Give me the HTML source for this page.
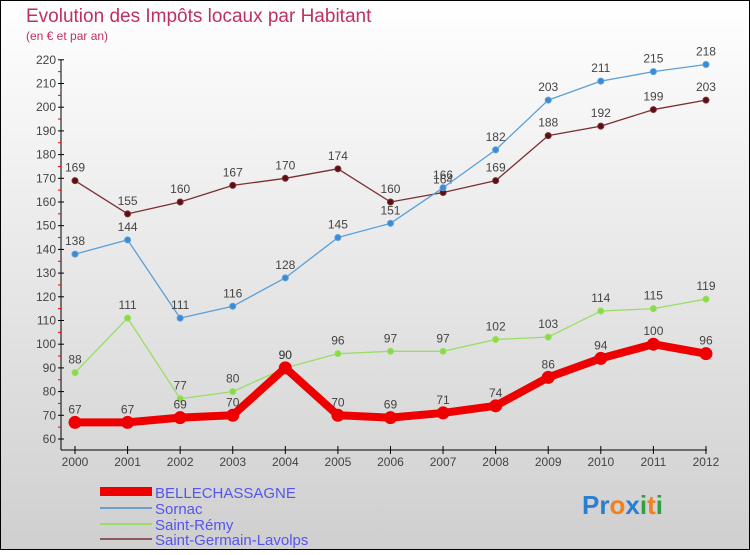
<!DOCTYPE html>
<html><head><meta charset="utf-8"><style>
body{margin:0;width:750px;height:550px;overflow:hidden;font-family:"Liberation Sans",sans-serif}
</style></head><body>
<svg width="750" height="550" xmlns="http://www.w3.org/2000/svg">
<defs><linearGradient id="bg" x1="0" y1="0" x2="0" y2="1"><stop offset="0" stop-color="#ffffff"/><stop offset="1" stop-color="#cfcfcf"/></linearGradient></defs>
<rect x="0.5" y="0.5" width="749" height="549" fill="url(#bg)" stroke="#000"/>
<text x="26" y="22" font-size="19" fill="#c0305f">Evolution des Impôts locaux par Habitant</text>
<text x="26" y="40" font-size="12" fill="#c0305f">(en € et par an)</text>
<g id="axes"></g>
<g id="series"></g>
<g id="legend" font-size="15" fill="#5555ee">
<rect x="100" y="487" width="52" height="9" fill="#ee0000"/>
<text x="155" y="498">BELLECHASSAGNE</text>
<rect x="100" y="507" width="52" height="2" fill="#6a9fcc"/>
<text x="155" y="514">Sornac</text>
<rect x="100" y="523" width="52" height="2" fill="#99dd66"/>
<text x="155" y="530">Saint-Rémy</text>
<rect x="100" y="538" width="52" height="2" fill="#8a5a5a"/>
<text x="155" y="545">Saint-Germain-Lavolps</text>
</g>
<text x="582" y="514" font-size="26" font-weight="bold"><tspan fill="#2a7fd0">Pr</tspan><tspan fill="#f08020">o</tspan><tspan fill="#2a7fd0">x</tspan><tspan fill="#30a040">i</tspan><tspan fill="#f08020">t</tspan><tspan fill="#30a040">i</tspan></text>
<script>
var years=[2000,2001,2002,2003,2004,2005,2006,2007,2008,2009,2010,2011,2012];
var yTicks=[60,70,80,90,100,110,120,130,140,150,160,170,180,190,200,210,220];
var belle=[67,67,69,70,90,70,69,71,74,86,94,100,96];
var sornac=[138,144,111,116,128,145,151,166,182,203,211,215,218];
var remy=[88,111,77,80,90,96,97,97,102,103,114,115,119];
var germain=[169,155,160,167,170,174,160,164,169,188,192,199,203];
var NS="http://www.w3.org/2000/svg";
function X(i){return 75+i*52.58;}
function Y(v){return 439-(v-60)*2.37;}
function mk(t,a,p){var e=document.createElementNS(NS,t);for(var k in a)e.setAttribute(k,a[k]);p.appendChild(e);return e;}
var ax=document.getElementById('axes');
var yl=mk('line',{x1:61,y1:60,x2:61,y2:450,stroke:'#000','stroke-width':1},ax);


var xl=mk('line',{x1:61,y1:450,x2:707,y2:450,stroke:'#000','stroke-width':1},ax);


yTicks.forEach(function(v){
 mk('line',{x1:58,y1:Y(v),x2:64,y2:Y(v),stroke:'#000'},ax);
 if(v<220)mk('line',{x1:58,y1:Y(v+5),x2:61,y2:Y(v+5),stroke:'#e00'},ax);
 var t=mk('text',{x:56,y:Y(v)+4,'font-size':12,fill:'#444','text-anchor':'end'},ax);t.textContent=v;
 
 
});
years.forEach(function(y,i){
 mk('line',{x1:X(i),y1:446,x2:X(i),y2:454,stroke:'#000'},ax);
 var t=mk('text',{x:X(i),y:466,'font-size':12,fill:'#444','text-anchor':'middle'},ax);t.textContent=y;
 
 
});
var sg=document.getElementById('series');
function draw(data,color,w,r,dot,name,lab){
 var g=mk('g',{},sg);
 
 
 var pl=mk('polyline',{points:data.map(function(v,i){return X(i)+','+Y(v);}).join(' '),fill:'none',stroke:color,'stroke-width':w,'stroke-linejoin':'round'},g);
 
 
 data.forEach(function(v,i){
  var c=mk('circle',{cx:X(i),cy:Y(v),r:r,fill:dot,stroke:color},g);
  
  
  var t=mk('text',{x:X(i),y:Y(v)-9,'font-size':12,fill:'#444','text-anchor':'middle'},g);t.textContent=v;
  
  
 });
}
draw(germain,'#7a3030',1.3,3,'#5a0f14','saint-germain');
draw(sornac,'#5a9fd8',1.3,3,'#3a8ad8','sornac');
draw(remy,'#99dd66',1.3,3,'#88dd44','saint-remy');
draw(belle,'#ee0000',8,6,'#ee0000','bellechassagne');
</script>
</svg>
</body></html>
